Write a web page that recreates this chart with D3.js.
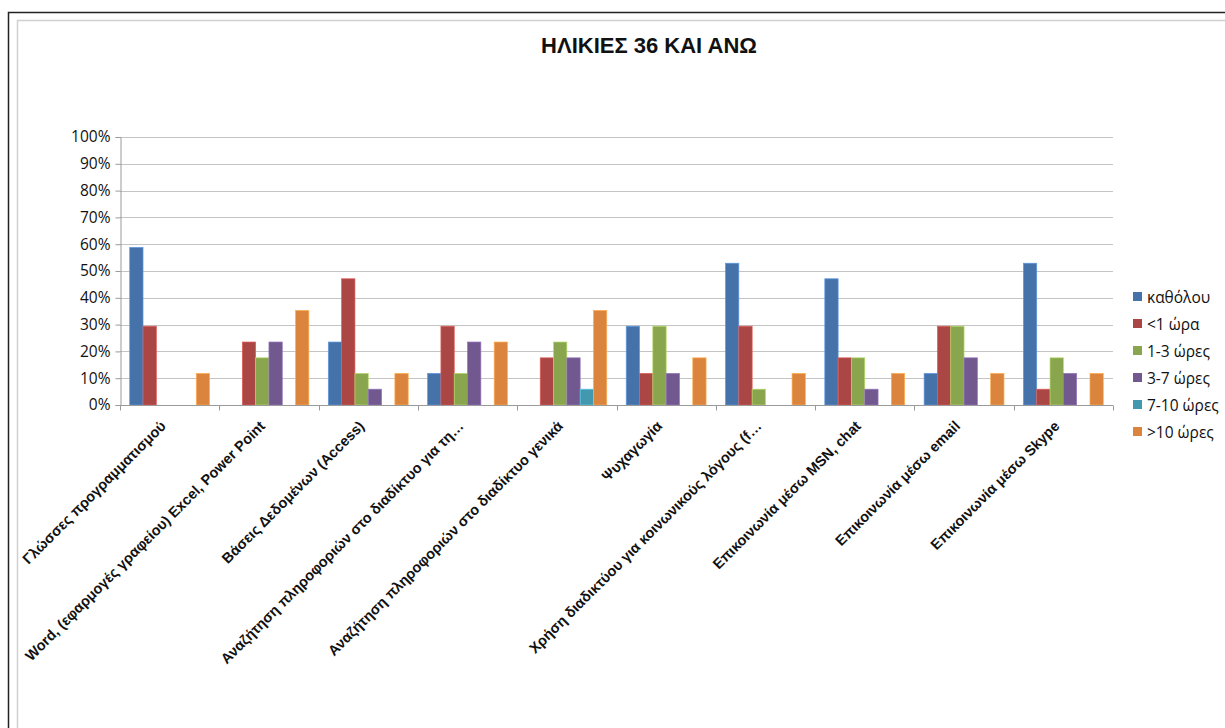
<!DOCTYPE html>
<html><head><meta charset="utf-8">
<script src="https://cdn.jsdelivr.net/npm/d3@7"></script>
<style>
body{margin:0;background:#fff;}
svg{display:block;}
</style></head>
<body>
<svg id="chart" width="1225" height="728"></svg>
<script>
const title = "ΗΛΙΚΙΕΣ 36 ΚΑΙ ΑΝΩ";
const categories = [
  "Γλώσσες προγραμματισμού",
  "Word, (εφαρμογές γραφείου) Excel, Power Point",
  "Βάσεις Δεδομένων (Access)",
  "Αναζήτηση πληροφοριών στο διαδίκτυο για τη…",
  "Αναζήτηση πληροφοριών στο διαδίκτυο γενικά",
  "Ψυχαγωγία",
  "Χρήση διαδικτύου για κοινωνικούς λόγους (f…",
  "Επικοινωνία μέσω MSN, chat",
  "Επικοινωνία μέσω email",
  "Επικοινωνία μέσω Skype"
];
const seriesNames = ["καθόλου", "<1 ώρα", "1-3 ώρες", "3-7 ώρες", "7-10 ώρες", ">10 ώρες"];
const seriesColors = ["#4672AA", "#AA4643", "#89A54E", "#71588F", "#4198AF", "#DB843D"];
const katholou  = [58.8, 0, 23.5, 11.8, 0, 29.4, 52.9, 47.1, 11.8, 52.9];
const lt1       = [29.4, 23.5, 47.1, 29.4, 17.6, 11.8, 29.4, 17.6, 29.4, 5.9];
const h1_3      = [0, 17.6, 11.8, 11.8, 23.5, 29.4, 5.9, 17.6, 29.4, 17.6];
const h3_7      = [0, 23.5, 5.9, 23.5, 17.6, 11.8, 0, 5.9, 17.6, 11.8];
const h7_10     = [0, 0, 0, 0, 5.9, 0, 0, 0, 0, 0];
const gt10      = [11.8, 35.3, 11.8, 23.5, 35.3, 17.6, 11.8, 11.8, 11.8, 11.8];
const yTicks = [0,10,20,30,40,50,60,70,80,90,100];

const seriesValues = [katholou, lt1, h1_3, h3_7, h7_10, gt10];

const svg = d3.select("#chart");

// frame
svg.append("rect").attr("x",8.5).attr("y",12.5).attr("width",1240).attr("height",730)
  .attr("fill","none").attr("stroke","#222").attr("stroke-width",1.5);
svg.append("rect").attr("x",17.5).attr("y",20.5).attr("width",1230).attr("height",720)
  .attr("fill","none").attr("stroke","#d0d0d0").attr("stroke-width",1.5);

svg.append("text").attr("x",649).attr("y",53).attr("text-anchor","middle")
  .attr("font-family","'Liberation Sans','Arial',sans-serif")
  .attr("font-weight","bold").attr("font-size",22).attr("fill","#111").text(title);

const pLeft = 120, pRight = 1113, pTop = 137, pBottom = 405;
const x = d3.scaleBand().domain(categories).range([pLeft,pRight]).paddingInner(0).paddingOuter(0);
const x1 = d3.scaleBand().domain(seriesNames).range([0,x.bandwidth()]).paddingOuter(0.73).paddingInner(0);
const y = d3.scaleLinear().domain([0,100]).range([pBottom,pTop]);

// gridlines
svg.append("g").selectAll("line").data(yTicks.filter(d=>d>0)).join("line")
  .attr("x1",pLeft).attr("x2",pRight).attr("y1",d=>Math.round(y(d))+0.5).attr("y2",d=>Math.round(y(d))+0.5)
  .attr("stroke","#c4c4c4").attr("stroke-width",1);

// y axis
const yAxis = svg.append("g").attr("transform",`translate(${pLeft+0.5},0)`)
  .call(d3.axisLeft(y).tickValues(yTicks).tickFormat(d=>d+"%").tickSize(5).tickPadding(5));
yAxis.select(".domain").attr("stroke","#9a9a9a");
yAxis.selectAll(".tick line").attr("stroke","#9a9a9a");
yAxis.selectAll("text").attr("font-family","'Open Sans','Liberation Sans',sans-serif")
  .attr("font-size",15.5).attr("fill","#111");

// bars
const groups = svg.append("g").selectAll("g").data(categories).join("g")
  .attr("transform",d=>`translate(${x(d)},0)`);
groups.selectAll("rect").data((c,i)=>seriesNames.map((s,j)=>({s, j, v: seriesValues[j][i]})))
  .join("rect")
  .attr("x",d=>x1(d.s)).attr("width",x1.bandwidth())
  .attr("y",d=>y(d.v)).attr("height",d=>y(0)-y(d.v))
  .attr("fill",d=>seriesColors[d.j])
  .attr("stroke",d=>d.v>0?d3.color(seriesColors[d.j]).brighter(0.8):"none").attr("stroke-width",0.7);

// x axis
const xAxisG = svg.append("g").attr("transform",`translate(0,${pBottom+0.5})`);
xAxisG.append("line").attr("x1",pLeft).attr("x2",pRight).attr("stroke","#9a9a9a");
const boundaries = categories.map(c=>x(c)).concat([pRight]);
xAxisG.selectAll("line.tk").data(boundaries).join("line").attr("class","tk")
  .attr("x1",d=>Math.round(d)+0.5).attr("x2",d=>Math.round(d)+0.5).attr("y1",0).attr("y2",5)
  .attr("stroke","#9a9a9a");

// category labels
svg.append("g").selectAll("text").data(categories).join("text")
  .attr("transform",d=>`translate(${x(d)+x.bandwidth()/2-3},${pBottom+22}) rotate(-45)`)
  .attr("text-anchor","end")
  .attr("font-family","'Liberation Sans','Arial',sans-serif")
  .attr("font-weight","bold").attr("font-size",14.5).attr("fill","#111")
  .text(d=>d);

// legend
const lg = svg.append("g").selectAll("g").data(seriesNames).join("g")
  .attr("transform",(d,i)=>`translate(1133,${297+i*27})`);
lg.append("rect").attr("x",0).attr("y",-5).attr("width",9).attr("height",9)
  .attr("fill",(d,i)=>seriesColors[i]);
lg.append("text").attr("x",14).attr("y",5.5)
  .attr("font-family","'Open Sans','Liberation Sans',sans-serif")
  .attr("font-size",15.5).attr("fill","#111").text(d=>d);
</script>
</body></html>
